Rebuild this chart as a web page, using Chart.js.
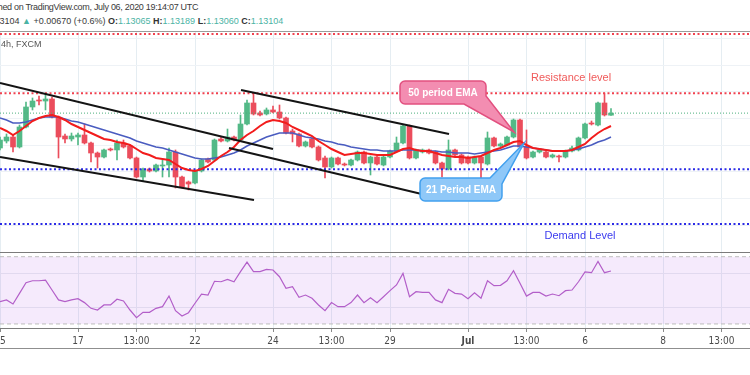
<!DOCTYPE html>
<html><head><meta charset="utf-8">
<script src="https://cdn.jsdelivr.net/npm/chart.js@4"></script>
<style>
html,body{margin:0;padding:0;background:#fff;width:750px;height:375px;overflow:hidden;font-family:'Liberation Sans',Arial,sans-serif;}
#wrap{position:relative;width:750px;height:375px;overflow:hidden;}
.hdr{position:absolute;white-space:nowrap;font-size:9px;color:#3a3a3a;line-height:11px;}
#h1{left:-25px;top:2px;letter-spacing:-0.3px;}
#h2{left:-13px;top:16px;}
#h3{left:1px;top:39px;color:#555;}
.t{color:#4bb3a4;}
.k{font-weight:bold;color:#333;}
#main{position:absolute;left:0;top:31px;}
#rsi{position:absolute;left:0;top:252px;}
#bot{position:absolute;left:0;top:348px;width:750px;height:0;border-top:1px solid #8f8f8f;}
</style></head>
<body><div id="wrap">
<div class="hdr" id="h1">Published on TradingView.com, July 06, 2020 19:14:07 UTC</div>
<div class="hdr" id="h2">1.13104 <span class="t">▲</span> +0.00670 (+0.6%) <span class="k">O:</span><span class="t">1.13065</span> <span class="k">H:</span><span class="t">1.13189</span> <span class="k">L:</span><span class="t">1.13060</span> <span class="k">C:</span><span class="t">1.13104</span></div>
<canvas id="main" width="750" height="221"></canvas>
<div class="hdr" id="h3">4h, FXCM</div>
<canvas id="rsi" width="750" height="96"></canvas>
<div id="bot"></div>
</div>
<script>
// ---- data (4h candles, index 0 = first bar of June 15) ----
const opens = [1.12450,1.12581,1.12656,1.12469,1.12844,1.13219,1.13350,1.13331,1.13369,1.13031,
1.12675,1.12619,1.12656,1.12694,1.12544,1.12356,1.12281,1.12431,1.12413,1.12544,
1.12488,1.12263,1.11906,1.12056,1.12019,1.12113,1.12131,1.12375,1.11906,1.11813,
1.11794,1.12019,1.12244,1.12225,1.12619,1.12581,1.12656,1.12600,1.12900,1.13294,
1.13106,1.13088,1.13163,1.13125,1.13013,1.12769,1.12713,1.12488,1.12619,1.12469,
1.12263,1.12094,1.12263,1.12150,1.12131,1.12225,1.12375,1.12169,1.12281,1.12131,
1.12281,1.12394,1.12544,1.12863,1.12263,1.12375,1.12413,1.12375,1.12169,1.12056,
1.12413,1.12319,1.12281,1.12169,1.12281,1.12150,1.12638,1.12488,1.12506,1.12656,
1.12975,1.12469,1.12281,1.12375,1.12375,1.12281,1.12300,1.12281,1.12394,1.12413,
1.12638,1.12919,1.12881,1.13294,1.13065];
const highs = [1.12656,1.12713,1.12694,1.12881,1.13313,1.13388,1.13425,1.13481,1.13406,1.13050,
1.12713,1.12731,1.12731,1.12900,1.12563,1.12375,1.12431,1.12450,1.12600,1.12600,
1.12506,1.12281,1.12075,1.12075,1.12150,1.12225,1.12450,1.12413,1.11925,1.11831,
1.12038,1.12244,1.12263,1.12619,1.12656,1.12806,1.12675,1.13069,1.13350,1.13481,
1.13144,1.13200,1.13238,1.13256,1.13031,1.12806,1.12731,1.12581,1.12638,1.12488,
1.12300,1.12281,1.12281,1.12169,1.12244,1.12394,1.12394,1.12300,1.12300,1.12300,
1.12413,1.12656,1.12881,1.12881,1.12431,1.12431,1.12431,1.12394,1.12188,1.12600,
1.12431,1.12338,1.12300,1.12300,1.12300,1.12750,1.12656,1.12544,1.12675,1.12994,
1.12994,1.12788,1.12394,1.12431,1.12394,1.12338,1.12319,1.12413,1.12488,1.12656,
1.12919,1.12956,1.13313,1.13481,1.13189];
const lows = [1.12413,1.12544,1.12375,1.12450,1.12825,1.13163,1.13256,1.13163,1.13013,1.12263,
1.12544,1.12581,1.12506,1.12525,1.12188,1.12075,1.12263,1.12394,1.12225,1.12450,
1.12244,1.11888,1.11831,1.12000,1.12000,1.11906,1.11906,1.11700,1.11700,1.11663,
1.11775,1.12000,1.12169,1.12206,1.12563,1.12563,1.12581,1.12581,1.12881,1.13069,
1.13050,1.13069,1.13106,1.12994,1.12713,1.12563,1.12469,1.12469,1.12450,1.12206,
1.11888,1.12075,1.12131,1.12113,1.12113,1.12206,1.12150,1.11944,1.12131,1.12113,
1.12263,1.12375,1.12525,1.12244,1.12244,1.12356,1.12338,1.12150,1.11906,1.12038,
1.12300,1.12150,1.12150,1.12150,1.11850,1.12131,1.12469,1.12469,1.12488,1.12638,
1.12450,1.12244,1.12263,1.12356,1.12263,1.12263,1.12188,1.12263,1.12375,1.12394,
1.12619,1.12881,1.12863,1.13050,1.13060];
const closes = [1.12600,1.12656,1.12469,1.12844,1.13219,1.13331,1.13331,1.13369,1.13031,1.12656,
1.12619,1.12675,1.12694,1.12544,1.12356,1.12281,1.12413,1.12413,1.12544,1.12469,
1.12263,1.11906,1.12056,1.12019,1.12131,1.12131,1.12375,1.11906,1.11719,1.11775,
1.12019,1.12225,1.12188,1.12600,1.12581,1.12656,1.12600,1.12900,1.13294,1.13088,
1.13069,1.13163,1.13125,1.13013,1.12731,1.12713,1.12488,1.12563,1.12469,1.12225,
1.12094,1.12263,1.12150,1.12131,1.12225,1.12375,1.12169,1.12281,1.12150,1.12281,
1.12394,1.12544,1.12863,1.12263,1.12413,1.12413,1.12356,1.12169,1.12056,1.12413,
1.12319,1.12169,1.12169,1.12281,1.12169,1.12638,1.12488,1.12525,1.12656,1.12975,
1.12469,1.12263,1.12375,1.12413,1.12281,1.12319,1.12281,1.12394,1.12450,1.12638,
1.12900,1.12900,1.13294,1.13069,1.13104];
const emaRed = [1.12825,1.12769,1.12694,1.12769,1.12863,1.12956,1.13013,1.13050,1.13069,1.13031,
1.12975,1.12900,1.12844,1.12788,1.12731,1.12675,1.12619,1.12600,1.12563,1.12544,
1.12506,1.12431,1.12356,1.12319,1.12263,1.12244,1.12225,1.12150,1.12075,1.12038,
1.12019,1.12056,1.12113,1.12206,1.12300,1.12375,1.12469,1.12600,1.12694,1.12769,
1.12863,1.12938,1.12975,1.12956,1.12919,1.12844,1.12788,1.12731,1.12675,1.12581,
1.12506,1.12431,1.12375,1.12319,1.12338,1.12356,1.12356,1.12338,1.12319,1.12319,
1.12319,1.12375,1.12431,1.12450,1.12413,1.12394,1.12394,1.12356,1.12319,1.12300,
1.12281,1.12281,1.12263,1.12281,1.12300,1.12356,1.12413,1.12450,1.12506,1.12563,
1.12581,1.12506,1.12450,1.12431,1.12413,1.12394,1.12394,1.12394,1.12413,1.12469,
1.12525,1.12638,1.12731,1.12806,1.12863];
const emaBlue = [1.13013,1.12975,1.12919,1.12919,1.12938,1.12975,1.13013,1.13031,1.13031,1.13031,
1.12994,1.12956,1.12938,1.12900,1.12863,1.12825,1.12788,1.12750,1.12713,1.12675,
1.12638,1.12581,1.12544,1.12506,1.12469,1.12450,1.12413,1.12375,1.12338,1.12300,
1.12263,1.12244,1.12244,1.12263,1.12281,1.12319,1.12356,1.12413,1.12488,1.12544,
1.12600,1.12656,1.12694,1.12731,1.12731,1.12731,1.12694,1.12656,1.12638,1.12619,
1.12581,1.12563,1.12525,1.12506,1.12469,1.12450,1.12431,1.12413,1.12413,1.12394,
1.12394,1.12394,1.12413,1.12413,1.12413,1.12394,1.12394,1.12394,1.12375,1.12375,
1.12356,1.12356,1.12356,1.12338,1.12356,1.12375,1.12394,1.12413,1.12450,1.12488,
1.12488,1.12469,1.12450,1.12431,1.12413,1.12394,1.12394,1.12394,1.12413,1.12431,
1.12469,1.12506,1.12563,1.12600,1.12656];
const rsiValues = [43.3,44.3,41.9,48.2,54.5,55.7,55.7,56.1,50.2,44.3,
43.3,44.3,45.0,42.7,39.3,38.3,41.3,41.3,44.7,43.7,
38.3,33.7,36.9,36.9,39.3,40.3,46.6,37.9,34.7,36.7,
42.3,47.8,47.2,55.4,55.1,56.5,55.1,61.1,66.8,61.1,
61.1,62.5,62.1,58.1,51.2,52.2,45.9,47.2,45.3,41.3,
37.9,42.7,40.3,40.3,42.7,47.2,42.7,45.6,42.7,46.2,
49.8,53.2,60.1,46.2,49.2,48.8,48.8,44.3,42.7,50.6,
48.2,47.8,45.0,48.6,45.3,55.7,52.8,53.0,55.7,61.7,
54.2,46.6,48.8,48.8,46.6,47.8,46.8,49.8,50.2,55.1,
60.9,60.5,67.2,60.5,61.5];
const tickIndex = [0,12,21,30,42,51,60,72,81,90,102,111];
const tickLabels = ['15','17','13:00','22','24','13:00','29','Jul','13:00','6','8','13:00'];
// horizontal levels (price)
const levelTop = 1.14588, levelResistance = 1.13476, levelLast = 1.13104, levelSupport = 1.12051, levelDemand = 1.11025;
// channel lines: [index, price] pairs
const channel1Upper = [[0,1.13669],[42,1.12431]];
const channel1Lower = [[0,1.12281],[39.08,1.11475]];
const channel2Upper = [[37.08,1.13538],[69.08,1.12713]];
const channel2Lower = [[35.23,1.12450],[66.15,1.11550]];
// annotations in data coordinates
const callouts = [
  {text:'50 period EMA', box:[61.54,1.13706,74.77,1.13275], tip:[79.08,1.12750], tail:'bottom', fill:'#f38db1', stroke:'#e2507f'},
  {text:'21 Period EMA', box:[64.62,1.11888,77.23,1.11456], tip:[80.62,1.12544], tail:'top', fill:'#8fc8f8', stroke:'#42a0ee'}
];
const textNotes = [
  {text:'Resistance level', at:[87.85,1.13763], color:'#f05a5a'},
  {text:'Demand Level', at:[89.23,1.10800], color:'#3b3bef'}
];

const X_MIN = 0, X_MAX = 750/6.5;
const Y_MIN = 1.10500, Y_MAX = 1.1464375;
const UP = '#53b987', DOWN = '#eb4d5c';
const candleColors = closes.map((c,i)=> c >= opens[i] ? UP : DOWN);
const hline = v => [{x:X_MIN,y:v},{x:X_MAX,y:v}];
const seg = p => p.map(q=>({x:q[0],y:q[1]}));
const FONT = "'Liberation Sans', Arial, sans-serif";

const lineDs = (data, color, width, dash, order) => ({type:'line', data, borderColor:color, borderWidth:width, borderDash:dash||[], pointRadius:0, tension:0, fill:false, order});

const annot = {
  id:'annot',
  afterDatasetsDraw(chart){
    const {ctx, scales:{x,y}} = chart;
    ctx.save();
    callouts.forEach(c=>{
      const l = x.getPixelForValue(c.box[0]), r = x.getPixelForValue(c.box[2]);
      const t = y.getPixelForValue(c.box[1]), b = y.getPixelForValue(c.box[3]);
      const tx = x.getPixelForValue(c.tip[0]), ty = y.getPixelForValue(c.tip[1]);
      const rad = 5;
      ctx.beginPath();
      ctx.moveTo(l+rad, t);
      if (c.tail === 'bottom') {
        ctx.lineTo(r-rad, t); ctx.arcTo(r, t, r, t+rad, rad);
        ctx.lineTo(r, b-8); ctx.lineTo(tx, ty); ctx.lineTo(r-22, b);
      } else {
        ctx.lineTo(r-12, t); ctx.lineTo(tx, ty); ctx.lineTo(r, t+6);
        ctx.lineTo(r, b-rad); ctx.arcTo(r, b, r-rad, b, rad);
      }
      ctx.lineTo(l+rad, b); ctx.arcTo(l, b, l, b-rad, rad);
      ctx.lineTo(l, t+rad); ctx.arcTo(l, t, l+rad, t, rad);
      ctx.closePath();
      ctx.fillStyle = c.fill; ctx.fill();
      ctx.lineWidth = 1.5; ctx.strokeStyle = c.stroke; ctx.stroke();
      ctx.fillStyle = '#fff';
      ctx.font = 'bold 10px ' + FONT;
      ctx.textAlign = 'center'; ctx.textBaseline = 'middle';
      ctx.fillText(c.text, (l+r)/2, (t+b)/2 + 0.5);
    });
    textNotes.forEach(n=>{
      ctx.fillStyle = n.color;
      ctx.font = '11px ' + FONT;
      ctx.textAlign = 'center'; ctx.textBaseline = 'middle';
      ctx.fillText(n.text, x.getPixelForValue(n.at[0]), y.getPixelForValue(n.at[1]));
    });
    ctx.restore();
  },
  afterDraw(chart){
    const {ctx, chartArea} = chart;
    ctx.save(); ctx.strokeStyle = '#9b9b9b'; ctx.lineWidth = 1;
    ctx.beginPath(); ctx.moveTo(0, chartArea.top+0.5); ctx.lineTo(chart.width, chartArea.top+0.5); ctx.stroke();
    ctx.restore();
  }
};

const xBase = {
  type:'linear', min:X_MIN, max:X_MAX, offset:false,
  afterBuildTicks: s => { s.ticks = tickIndex.map(v=>({value:v})); },
  afterFit: s => { s.paddingLeft = 0; s.paddingRight = 0; }
};

new Chart(document.getElementById('main'), {
  type:'bar',
  data:{datasets:[
    {type:'bar', data: highs.map((h,i)=>({x:i, y:[lows[i], h]})), backgroundColor:candleColors, grouped:false, maxBarThickness:1, barPercentage:1, categoryPercentage:1, borderWidth:0, order:10},
    {type:'bar', data: opens.map((o,i)=>({x:i, y:[o, closes[i]]})), backgroundColor:candleColors, grouped:false, maxBarThickness:5, barPercentage:1, categoryPercentage:1, borderWidth:0, minBarLength:1, order:9},
    lineDs(hline(levelTop), '#f0414f', 2, [2,2.5], 8),
    lineDs(hline(levelResistance), '#f0414f', 2, [2,2.5], 8),
    lineDs(hline(levelSupport), '#2b2be6', 2, [2,2.5], 8),
    lineDs(hline(levelDemand), '#2b2be6', 2, [2,2.5], 8),
    lineDs(hline(levelLast), '#4caf7d', 1, [1,2], 8),
    lineDs(emaBlue.map((v,i)=>({x:i,y:v})), '#4a5cc0', 1.6, null, 5),
    lineDs(emaRed.map((v,i)=>({x:i,y:v})), '#f21c1c', 2, null, 4),
    lineDs(seg(channel1Upper), '#141414', 2, null, 1),
    lineDs(seg(channel1Lower), '#141414', 2, null, 1),
    lineDs(seg(channel2Upper), '#141414', 2, null, 1),
    lineDs(seg(channel2Lower), '#141414', 2, null, 1)
  ]},
  options:{
    responsive:false, animation:false, devicePixelRatio:1,
    layout:{padding:0, autoPadding:false},
    plugins:{legend:{display:false}, tooltip:{enabled:false}},
    scales:{
      x:Object.assign({}, xBase, {grid:{color:'#e5edf2', drawTicks:false, offset:false}, border:{display:false}, ticks:{display:false}}),
      y:{type:'linear', min:Y_MIN, max:Y_MAX, grid:{color:'#eef2f6', drawTicks:false}, border:{display:false}, ticks:{display:false, stepSize:0.005, includeBounds:false}}
    }
  },
  plugins:[annot]
});

const rsiTop = {
  id:'rsiTop',
  afterDraw(chart){
    const {ctx, chartArea} = chart;
    ctx.save(); ctx.strokeStyle = '#7b7b7b'; ctx.lineWidth = 1;
    ctx.beginPath(); ctx.moveTo(0, chartArea.top+0.5); ctx.lineTo(chart.width, chartArea.top+0.5); ctx.stroke();
    ctx.restore();
  }
};

new Chart(document.getElementById('rsi'), {
  type:'line',
  data:{datasets:[
    {data:hline(70), borderColor:'#bdbdbd', borderDash:[4,3], borderWidth:1, pointRadius:0, fill:false, order:3},
    {data:hline(30), borderColor:'#bdbdbd', borderDash:[4,3], borderWidth:1, pointRadius:0, fill:'-1', backgroundColor:'rgba(170,80,230,0.12)', order:3},
    {data:rsiValues.map((v,i)=>({x:i,y:v})), borderColor:'#b35fc9', borderWidth:1.2, pointRadius:0, tension:0, fill:false, order:1}
  ]},
  options:{
    responsive:false, animation:false, devicePixelRatio:1,
    layout:{padding:0, autoPadding:false},
    plugins:{legend:{display:false}, tooltip:{enabled:false}},
    scales:{
      x:Object.assign({}, xBase, {
        grid:{color:'#e5edf2', tickColor:'#8a8a8a', tickLength:4, drawTicks:true, offset:false},
        border:{display:true, color:'#7d7d7d', width:1},
        ticks:{autoSkip:false, maxRotation:0, minRotation:0, padding:3, color:'#4a4a4a',
          font: c => ({family:"'Liberation Sans Narrow','Arial Narrow','DejaVu Sans Condensed',sans-serif", size:10, weight: c.index === 7 ? 'bold' : 'normal'}),
          callback: v => { const k = tickIndex.indexOf(v); return k >= 0 ? tickLabels[k] : ''; }},
        afterFit: s => { s.paddingLeft = 0; s.paddingRight = 0; s.height = 20; }
      }),
      y:{type:'linear', min:27.6, max:72.8, grid:{color:'#e9ecf1', drawTicks:false}, border:{display:false}, ticks:{display:false, stepSize:20, includeBounds:false}}
    }
  },
  plugins:[rsiTop]
});
</script>
</body></html>
